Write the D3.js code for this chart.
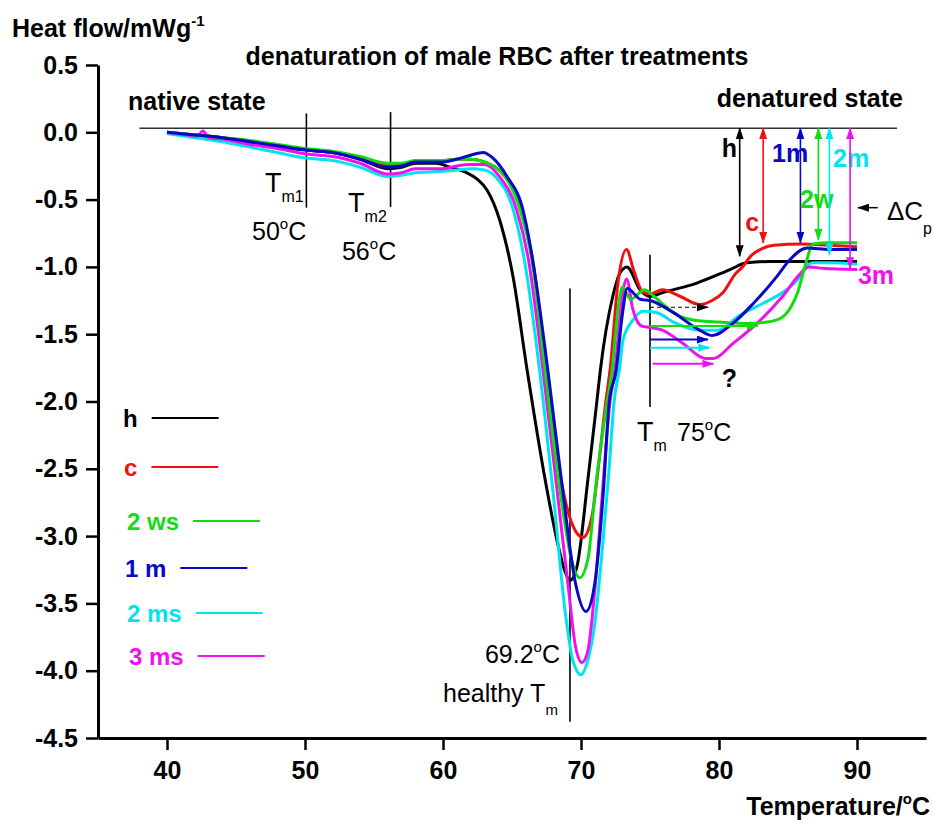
<!DOCTYPE html>
<html>
<head>
<meta charset="utf-8">
<script src="https://cdn.jsdelivr.net/npm/d3@7"></script>
<style>
  body { margin: 0; background: #fff; }
  svg { display: block; font-family: Arial, "Liberation Sans", sans-serif; }
</style>
</head>
<body>
<svg id="chart" width="934" height="821"></svg>
<script>
// Series (temperature °C, heat flow mW/g)
const seriesNames = ["h", "c", "2 ws", "1 m", "2 ms", "3 ms"];
const seriesColors = ["#000000", "#f01010", "#10dd10", "#0808c8", "#00e4f0", "#f010f0"];

const hData = [[40,0],[42,-0.02],[44,-0.04],[46,-0.07],[48,-0.1],[50,-0.13],[51,-0.14],[52,-0.15],[54,-0.2],[56,-0.27],[57,-0.26],[58,-0.23],[59.5,-0.23],[60.5,-0.26],[61.7,-0.3],[62.5,-0.35],[63.2,-0.43],[64.1,-0.65],[65.07,-1.07],[66.1,-1.77],[67.4,-2.58],[68.3,-3.05],[68.8,-3.25],[69.2,-3.33],[69.7,-3.23],[70.5,-2.58],[71.16,-1.99],[71.4,-1.77],[72.3,-1.22],[72.8,-1.05],[73.33,-1.0],[74.28,-1.17],[75,-1.22],[75.94,-1.19],[78.4,-1.12],[80.8,-1.02],[82,-0.97],[83.7,-0.96],[90,-0.96]];

const cData = [[40,0],[42,-0.02],[44,-0.04],[46,-0.07],[48,-0.1],[50,-0.13],[51,-0.14],[52,-0.15],[54,-0.19],[56,-0.24],[57,-0.24],[58,-0.22],[60,-0.21],[61,-0.2],[62,-0.2],[63,-0.22],[64.5,-0.33],[65.7,-0.58],[66.5,-0.95],[67.5,-1.77],[68.5,-2.55],[69.4,-2.92],[70.15,-3.01],[70.8,-2.85],[71.3,-2.45],[71.8,-2.0],[72.1,-1.77],[72.7,-1.1],[73.3,-0.87],[73.8,-1.02],[74.5,-1.19],[75,-1.2],[75.9,-1.17],[77.2,-1.22],[78.6,-1.28],[79.5,-1.25],[80.3,-1.19],[81.2,-1.05],[81.7,-1.0],[82.3,-0.92],[83.2,-0.86],[84,-0.84],[86,-0.83],[88,-0.84],[90,-0.85]];

const wsData = [[40,0],[42,-0.02],[44,-0.04],[46,-0.06],[48,-0.09],[50,-0.12],[51,-0.13],[52,-0.14],[54,-0.18],[56,-0.23],[57,-0.23],[58,-0.21],[60,-0.21],[61,-0.2],[62,-0.2],[63,-0.22],[64.5,-0.33],[65.6,-0.58],[66.45,-0.95],[67.4,-1.77],[68.4,-2.6],[69.3,-3.17],[69.9,-3.31],[70.5,-3.17],[71.1,-2.6],[71.9,-2.0],[72.25,-1.77],[72.7,-1.3],[73.0,-1.15],[73.6,-1.24],[74.6,-1.17],[75.3,-1.22],[76.2,-1.3],[77.2,-1.37],[78.5,-1.4],[80,-1.41],[82,-1.42],[83.5,-1.41],[84.5,-1.38],[85.2,-1.3],[85.7,-1.19],[86.3,-0.97],[86.8,-0.83],[88,-0.82],[90,-0.82]];

const m1Data = [[40,0],[42,-0.02],[44,-0.04],[46,-0.07],[48,-0.1],[50,-0.13],[51,-0.14],[52,-0.15],[54,-0.2],[56,-0.26],[57,-0.25],[58,-0.22],[60,-0.22],[61,-0.2],[62,-0.17],[62.9,-0.15],[63.6,-0.19],[64.65,-0.33],[65.8,-0.58],[66.5,-0.95],[67.6,-1.77],[68.6,-2.6],[69.6,-3.35],[70.36,-3.56],[71.0,-3.35],[71.6,-2.7],[72.05,-2.0],[72.55,-1.77],[73.0,-1.35],[73.35,-1.16],[74.3,-1.24],[75,-1.25],[76.7,-1.34],[78.6,-1.47],[79.5,-1.51],[81,-1.42],[82.5,-1.27],[84.2,-1.07],[85.1,-0.95],[86.4,-0.86],[88,-0.87],[90,-0.87]];

const ms2Data = [[40,-0.01],[42,-0.04],[44,-0.07],[46,-0.11],[48,-0.15],[50,-0.19],[51,-0.2],[52,-0.21],[54,-0.26],[56,-0.33],[57,-0.32],[58,-0.3],[60,-0.29],[61,-0.28],[62,-0.27],[63,-0.28],[63.8,-0.33],[65.1,-0.58],[65.9,-0.95],[67.0,-1.77],[68.0,-2.7],[68.9,-3.6],[69.4,-3.92],[70.0,-4.03],[70.5,-3.92],[71.0,-3.65],[71.5,-3.15],[72.0,-2.55],[72.4,-2.0],[72.8,-1.75],[73.05,-1.54],[73.8,-1.39],[74.5,-1.33],[75.5,-1.34],[76.7,-1.41],[78.6,-1.47],[79.9,-1.47],[81.5,-1.36],[83.2,-1.27],[84.6,-1.19],[85.65,-1.1],[86.4,-0.99],[86.8,-0.97],[88,-0.97],[90,-0.98]];

const ms3Data = [[40,0],[41.5,-0.02],[42.2,-0.03],[42.6,0.01],[43,-0.04],[44,-0.05],[46,-0.09],[48,-0.12],[50,-0.16],[51,-0.17],[52,-0.18],[54,-0.23],[56,-0.31],[57,-0.3],[58,-0.27],[60,-0.27],[61,-0.25],[62,-0.24],[63,-0.24],[64.1,-0.33],[65.35,-0.58],[66.2,-0.95],[67.25,-1.77],[68.2,-2.6],[69.1,-3.4],[69.6,-3.82],[70.07,-3.94],[70.5,-3.85],[71.0,-3.4],[71.5,-2.75],[72.1,-2.0],[72.45,-1.77],[72.9,-1.3],[73.3,-1.09],[73.77,-1.32],[74.4,-1.44],[75,-1.45],[75.9,-1.47],[77.4,-1.57],[79.0,-1.68],[79.6,-1.68],[81.0,-1.57],[82.75,-1.42],[84.6,-1.22],[85.9,-1.05],[86.5,-1.0],[87.5,-1.01],[90,-1.02]];

const seriesData = [hData, cData, wsData, m1Data, ms2Data, ms3Data];
const drawOrder = [0, 1, 4, 5, 2, 3];

// Axis ticks
const xMajor = [40, 50, 60, 70, 80, 90];
const xMinor = [35, 45, 55, 65, 75, 85, 95];
const yMajor = [0.5, 0, -0.5, -1, -1.5, -2, -2.5, -3, -3.5, -4, -4.5];
const yMinor = [0.25, -0.25, -0.75, -1.25, -1.75, -2.25, -2.75, -3.25, -3.75, -4.25];

// Vertical marker lines (Tm1, Tm2, healthy Tm, Tm 75)
const markerTemps = [50.1, 56.2, 69.2, 75.0];
const markerTop = [0.14, 0.15, -1.16, -0.91];
const markerBottom = [-0.56, -0.555, -4.38, -2.04];

// Double arrows from the baseline down to each denatured plateau
const dcpLabels = ["h", "c", "1m", "2w", "2m", "3m"];
const dcpSeries = [0, 1, 3, 2, 4, 5];
const dcpTemps = [81.5, 83.2, 85.9, 87.2, 88.0, 89.5];
const dcpEnds = [-0.92, -0.82, -0.82, -0.80, -0.91, -1.01];
const dcpLabelT = [80.2, 81.9, 83.84, 85.87, 88.26, 90.07];
const dcpLabelV = [-0.18, -0.73, -0.22, -0.56, -0.258, -1.13];

// Horizontal arrows starting at Tm 75 °C
const flatSeries = [0, 2, 3, 4, 5];
const flatStart = [75.0, 75.0, 75.0, 75.0, 75.2];
const flatEnd = [79.2, 82.8, 79.2, 79.3, 79.6];
const flatLevel = [-1.30, -1.44, -1.54, -1.60, -1.72];

const baselineLevel = 0.03;
const baselineRange = [38.0, 92.9];

// legend layout (row centres, text left)
const legendRowY = [418, 467, 521, 568, 613, 656];
const legendTextX = [123, 124, 127, 125, 127, 129];

const svg = d3.select("#chart");
const x = d3.scaleLinear().domain([35, 95]).range([98, 926]);
const y = d3.scaleLinear().domain([-4.5, 0.5]).range([738, 65]);

// arrow markers
const defs = svg.append("defs");
seriesColors.forEach((c, i) => {
  defs.append("marker")
    .attr("id", "arr" + i)
    .attr("markerUnits", "userSpaceOnUse")
    .attr("markerWidth", 12).attr("markerHeight", 8)
    .attr("refX", 11).attr("refY", 4)
    .attr("orient", "auto-start-reverse")
    .append("path").attr("d", "M0,0 L12,4 L0,8 Z").attr("fill", c);
});

// Axes
const yAxisG = svg.append("g").attr("transform", "translate(98,0)");
yAxisG.call(d3.axisLeft(y).tickValues(yMinor).tickSize(7).tickSizeOuter(0).tickFormat(""));
yAxisG.call(d3.axisLeft(y).tickValues(yMajor).tickSize(12).tickSizeOuter(0).tickPadding(8).tickFormat(d => d.toFixed(1)));
const xAxisG = svg.append("g").attr("transform", "translate(0,738)");
xAxisG.call(d3.axisBottom(x).tickValues(xMinor).tickSize(6).tickSizeOuter(0).tickFormat(""));
xAxisG.call(d3.axisBottom(x).tickValues(xMajor).tickSize(12).tickSizeOuter(0).tickPadding(11).tickFormat(d3.format("d")));

svg.selectAll(".domain").attr("stroke", "#000").attr("stroke-width", 3);
svg.selectAll(".tick line").attr("stroke", "#000").attr("stroke-width", 2.5);
yAxisG.selectAll("text").attr("font-size", 25).attr("font-weight", "bold").attr("fill", "#000")
  .attr("font-family", "Arial, 'Liberation Sans', sans-serif");
xAxisG.selectAll("text").attr("font-size", 25).attr("font-weight", "bold").attr("fill", "#000")
  .attr("font-family", "'Liberation Sans Narrow', 'Arial Narrow', Arial, sans-serif");

// text helper with sub/superscripts
function addText(px, py, parts, size, weight, color, anchor) {
  const t = svg.append("text")
    .attr("x", px).attr("y", py)
    .attr("font-size", size).attr("font-weight", weight)
    .attr("fill", color).attr("text-anchor", anchor || "start");
  let shift = 0;
  parts.forEach(p => {
    const off = p.sub ? (p.off || 10) : p.sup ? -Math.round(size * 0.45) : 0;
    t.append("tspan")
      .attr("dy", off - shift)
      .attr("font-size", p.sub || p.sup ? Math.round(size * 0.6) : size)
      .text(p.t);
    shift = off;
  });
  return t;
}

// Titles and axis labels
addText(12, 37, [{t: "Heat flow/mWg"}, {t: "-1", sup: true}], 25, "bold", "#000");
addText(497, 65, [{t: "denaturation of male RBC after treatments"}], 25, "bold", "#000", "middle");
addText(930, 815, [{t: "Temperature/"}, {t: "o", sup: true}, {t: "C"}], 25, "bold", "#000", "end")
  .attr("font-family", "'Liberation Sans Narrow', 'Arial Narrow', Arial, sans-serif");
addText(128, 110, [{t: "native state"}], 25, "bold", "#000");
addText(903, 107, [{t: "denatured state"}], 25, "bold", "#000", "end");

// Baseline
svg.append("line")
  .attr("x1", x(baselineRange[0])).attr("x2", x(baselineRange[1]))
  .attr("y1", y(baselineLevel)).attr("y2", y(baselineLevel))
  .attr("stroke", "#333").attr("stroke-width", 1.5);

// Marker lines
markerTemps.forEach((t, i) => {
  svg.append("line")
    .attr("x1", x(t)).attr("x2", x(t))
    .attr("y1", y(markerTop[i])).attr("y2", y(markerBottom[i]))
    .attr("stroke", "#000").attr("stroke-width", 1.6);
});

// Curves
const line = d3.line().x(d => x(d[0])).y(d => y(d[1])).curve(d3.curveMonotoneX);
drawOrder.forEach(i => {
  svg.append("path")
    .datum(seriesData[i])
    .attr("fill", "none")
    .attr("stroke", seriesColors[i])
    .attr("stroke-width", 3)
    .attr("stroke-linejoin", "round")
    .attr("d", line);
});

// Horizontal arrows from Tm 75 °C
flatSeries.forEach((s, i) => {
  svg.append("line")
    .attr("x1", x(flatStart[i])).attr("x2", x(flatEnd[i]))
    .attr("y1", y(flatLevel[i])).attr("y2", y(flatLevel[i]))
    .attr("stroke", seriesColors[s])
    .attr("stroke-width", s === 0 ? 1 : 2)
    .attr("stroke-dasharray", s === 0 ? "4,3" : null)
    .attr("marker-end", `url(#arr${s})`);
});

// Double arrows (ΔCp)
dcpTemps.forEach((t, i) => {
  const s = dcpSeries[i];
  svg.append("line")
    .attr("x1", x(t)).attr("x2", x(t))
    .attr("y1", y(baselineLevel)).attr("y2", y(dcpEnds[i]))
    .attr("stroke", seriesColors[s]).attr("stroke-width", 1.6)
    .attr("marker-start", `url(#arr${s})`)
    .attr("marker-end", `url(#arr${s})`);
  addText(x(dcpLabelT[i]), y(dcpLabelV[i]), [{t: dcpLabels[i]}], 25, "bold", seriesColors[s]);
});

// ΔCp pointer
svg.append("line")
  .attr("x1", x(91.5)).attr("x2", x(90.07))
  .attr("y1", y(-0.56)).attr("y2", y(-0.56))
  .attr("stroke", "#000").attr("stroke-width", 1.5)
  .attr("marker-end", "url(#arr0)");
addText(x(92.17), y(-0.65), [{t: "\u0394C"}, {t: "p", sub: true, off: 14}], 26, "normal", "#000");

// Temperature annotations
addText(x(47.1), y(-0.445), [{t: "T"}, {t: "m1", sub: true}], 27, "normal", "#000");
addText(x(46.16), y(-0.80), [{t: "50"}, {t: "o", sup: true}, {t: "C"}], 25, "normal", "#000");
addText(x(53.12), y(-0.59), [{t: "T"}, {t: "m2", sub: true}], 27, "normal", "#000");
addText(x(52.68), y(-0.95), [{t: "56"}, {t: "o", sup: true}, {t: "C"}], 25, "normal", "#000");
addText(x(68.48), y(-3.94), [{t: "69.2"}, {t: "o", sup: true}, {t: "C"}], 25, "normal", "#000", "end");
addText(x(60.0), y(-4.23), [{t: "healthy T"}, {t: "m", sub: true, off: 13}], 25, "normal", "#000");
addText(x(74.06), y(-2.29), [{t: "T"}, {t: "m", sub: true}], 27, "normal", "#000");
addText(x(76.96), y(-2.29), [{t: "75"}, {t: "o", sup: true}, {t: "C"}], 25, "normal", "#000");
addText(x(80.2), y(-1.89), [{t: "?"}], 25, "bold", "#000");

// Legend
const legend = svg.append("g");
seriesNames.forEach((name, i) => {
  const cy = legendRowY[i];
  const tx = legendTextX[i];
  const t = legend.append("text")
    .attr("x", tx).attr("y", cy + 9)
    .attr("font-size", 24).attr("font-weight", "bold")
    .attr("fill", seriesColors[i]).text(name);
  const w = t.node().getComputedTextLength();
  legend.append("line")
    .attr("x1", tx + w + 14).attr("x2", tx + w + 81)
    .attr("y1", cy).attr("y2", cy)
    .attr("stroke", seriesColors[i]).attr("stroke-width", 2);
});
</script>
</body>
</html>
